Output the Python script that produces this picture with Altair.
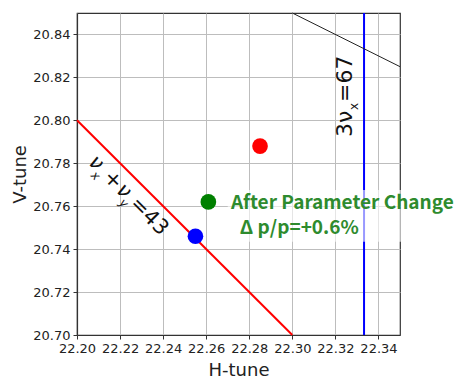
import altair as alt
import pandas as pd

# ---- data ----
x_ticks = [22.20, 22.22, 22.24, 22.26, 22.28, 22.30, 22.32, 22.34]
y_ticks = [20.70, 20.72, 20.74, 20.76, 20.78, 20.80, 20.82, 20.84]
x_domain = [22.20, 22.35]
y_domain = [20.70, 20.85]

point_x = [22.285, 22.261, 22.255]
point_y = [20.788, 20.762, 20.746]
point_color = ["#ff0000", "#008000", "#0000ff"]

# resonance lines
sum_x = [22.20, 22.30]        # nu_x + nu_y = 43
sum_y = [20.80, 20.70]
third_x = [22.3333, 22.3333]  # 3 nu_x = 67
third_y = [20.70, 20.85]
skew_x = [22.30, 22.35]
skew_y = [20.85, 20.825]

# label pieces (main text and subscripts), placed in data coordinates
sum_label_parts = ["ν", "x", "+", "ν", "y", "=43"]
sum_label_x = [22.20483, 22.20614, 22.21173, 22.21780, 22.21928, 22.22420]
sum_label_y = [20.78000, 20.77405, 20.77307, 20.76697, 20.76121, 20.76055]
third_label_parts = ["3ν", "x", "=67"]
third_label_x = [22.32771, 22.33050, 22.32771]
third_label_y = [20.79224, 20.80481, 20.80854]

note_lines = ["After Parameter Change", "Δ p/p=+0.6%"]
note_x = [22.2715, 22.2756]
note_y = [20.7587, 20.7472]
note_box_x = [22.2700, 22.3763]
note_box_y = [20.7434, 20.7676]

# ---- scales / axes ----
xs = alt.Scale(domain=x_domain, nice=False, zero=False)
ys = alt.Scale(domain=y_domain, nice=False, zero=False)
xaxis = alt.Axis(values=x_ticks, format=".2f", title="H-tune",
                 titleX=161.5, titleY=40, titleAlign="center",
                 titleBaseline="alphabetic")
yaxis = alt.Axis(values=y_ticks, format=".2f", title="V-tune",
                 titleX=-52, titleY=161, titleAngle=270,
                 titleAlign="center", titleBaseline="alphabetic")


def X(f="x"):
    return alt.X(f + ":Q", scale=xs, axis=xaxis)


def Y(f="y"):
    return alt.Y(f + ":Q", scale=ys, axis=yaxis)


layers = []

layers.append(
    alt.Chart(pd.DataFrame({"x": sum_x, "y": sum_y}))
    .mark_line(color="#ff0000", strokeWidth=2)
    .encode(x=X(), y=Y())
)
layers.append(
    alt.Chart(pd.DataFrame({"x": [third_x[0]], "y": [third_y[0]], "y2": [third_y[1]]}))
    .mark_rule(color="#0000ff", strokeWidth=2)
    .encode(x=X(), y=Y(), y2="y2:Q")
)
layers.append(
    alt.Chart(pd.DataFrame({"x": skew_x, "y": skew_y}))
    .mark_line(color="#222222", strokeWidth=1)
    .encode(x=X(), y=Y())
)

# translucent box behind annotation
layers.append(
    alt.Chart(pd.DataFrame({"x": [note_box_x[0]], "x2": [note_box_x[1]],
                            "y": [note_box_y[0]], "y2": [note_box_y[1]]}))
    .mark_rect(color="white", opacity=0.6)
    .encode(x=X(), x2="x2:Q", y=Y(), y2="y2:Q")
)

layers.append(
    alt.Chart(pd.DataFrame({"x": point_x, "y": point_y, "c": point_color}))
    .mark_circle(size=245, opacity=1)
    .encode(x=X(), y=Y(), color=alt.Color("c:N", scale=None))
)

# nu_x + nu_y = 43 label (rotated 45 deg)
sizes1 = [21, 12, 21, 21, 12, 21]
styles1 = ["italic", "italic", "normal", "italic", "italic", "normal"]
for i, txt in enumerate(sum_label_parts):
    layers.append(
        alt.Chart(pd.DataFrame({"x": [sum_label_x[i]], "y": [sum_label_y[i]]}))
        .mark_text(text=txt, angle=45, align="left", baseline="alphabetic",
                   fontSize=sizes1[i], fontStyle=styles1[i],
                   font="DejaVu Sans", color="#111111")
        .encode(x=X(), y=Y())
    )

# 3 nu_x = 67 label (rotated 270 deg)
sizes2 = [22, 12, 22]
for i, txt in enumerate(third_label_parts):
    layers.append(
        alt.Chart(pd.DataFrame({"x": [third_label_x[i]], "y": [third_label_y[i]]}))
        .mark_text(text=txt, angle=270, align="left", baseline="alphabetic",
                   fontSize=sizes2[i], font="DejaVu Sans", color="#111111")
        .encode(x=X(), y=Y())
    )

layers.append(
    alt.Chart(pd.DataFrame({"x": note_x, "y": note_y, "t": note_lines}))
    .mark_text(align="left", baseline="alphabetic", fontSize=19,
               fontWeight="bold", font="Noto Sans CJK JP", color="#2e8b2e")
    .encode(x=X(), y=Y(), text="t:N")
)

chart = (
    alt.layer(*layers)
    .properties(width=323, height=322,
                autosize=alt.AutoSizeParams(type="none"),
                padding={"left": 69, "top": 5, "right": 55, "bottom": 46})
    .configure_view(stroke="#333333", strokeWidth=1.2)
    .configure_axis(grid=True, gridColor="#bdbdbd", gridWidth=1,
                    domainColor="#333333", domainWidth=1.2,
                    tickColor="#333333", tickSize=4, tickWidth=1,
                    labelFont="DejaVu Sans", labelFontSize=13,
                    labelColor="#222222", labelPadding=3, labelFlush=False,
                    titleFont="DejaVu Sans", titleFontSize=18,
                    titleFontWeight="normal", titleColor="#222222")
)

chart.save("out.html", embed_options={"renderer": "svg", "actions": False})
